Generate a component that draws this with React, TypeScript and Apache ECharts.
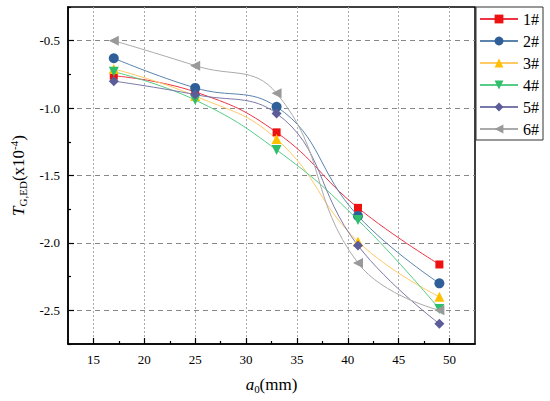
import React, { useEffect, useRef } from "react";
import * as echarts from "echarts";

const xValues = [17, 25, 33, 41, 49];
const seriesNames = ["1#", "2#", "3#", "4#", "5#", "6#"];
const s1 = [-0.76, -0.88, -1.18, -1.74, -2.16];
const s2 = [-0.63, -0.85, -0.99, -1.8, -2.3];
const s3 = [-0.71, -0.91, -1.23, -1.99, -2.4];
const s4 = [-0.73, -0.94, -1.31, -1.83, -2.49];
const s5 = [-0.8, -0.9, -1.04, -2.02, -2.6];
const s6 = [-0.5, -0.685, -0.89, -2.15, -2.5];
const xMajorTicks = [15, 20, 25, 30, 35, 40, 45, 50];
const xMinorTicks = [17.5, 22.5, 27.5, 32.5, 37.5, 42.5, 47.5];
const yMajorTicks = [-2.5, -2.0, -1.5, -1.0, -0.5];
const yMinorTicks = [-2.75, -2.25, -1.75, -1.25, -0.75, -0.25];

const FONT = "'Liberation Serif', 'Times New Roman', serif";

export default function App() {
  const ref = useRef<HTMLDivElement>(null);
  useEffect(() => {
    document.body.style.margin = "0";
    const chart = echarts.init(ref.current!, null, { renderer: "svg" });
    const all = [s1, s2, s3, s4, s5, s6];
    const markerColors = ["#ee1111", "#2f5f98", "#ffc000", "#2fbf6a", "#5c5c99", "#999999"];
    const lineColors = ["#ee3344", "#5a84ad", "#ffc966", "#55cc88", "#7a7aaa", "#aaaaaa"];
    const symbols = ["rect", "circle", "triangle", "triangle", "diamond", "triangle"];
    const rotates = [0, 0, 0, 180, 0, 90];
    const sizes = [8, 10, 10, 10, 10, 10];
    const series = all.map((vals, i) => ({
      name: seriesNames[i],
      type: "line",
      xAxisIndex: 0,
      yAxisIndex: 0,
      data: vals.map((v, j) => [xValues[j], v]),
      smooth: 0.45,
      symbol: symbols[i],
      symbolRotate: rotates[i],
      symbolSize: sizes[i],
      showAllSymbol: true,
      lineStyle: { color: lineColors[i], width: 1 },
      itemStyle: { color: markerColors[i] },
      emphasis: { disabled: true },
    }));
    const minorAxisCommon = {
      axisLine: { show: false },
      axisLabel: { show: false },
      splitLine: { show: false },
    };
    chart.setOption({
      animation: false,
      grid: {
        left: 60,
        right: 75,
        top: 7,
        bottom: 57,
        show: true,
        borderColor: "#000",
        borderWidth: 1.5,
        backgroundColor: "transparent",
      },
      legend: {
        orient: "vertical",
        left: 476,
        top: 7,
        padding: [4, 4, 3, 3],
        borderColor: "#333",
        borderWidth: 1,
        borderRadius: 0,
        itemWidth: 38,
        itemHeight: 11,
        itemGap: 6,
        textStyle: { fontFamily: FONT, fontSize: 16, lineHeight: 16, color: "#000" },
        data: seriesNames,
      },
      xAxis: [
        {
          type: "value",
          min: 12.5,
          max: 52.5,
          interval: 2.5,
          name: "{i|a}{sub|0}{n|(mm)}",
          nameLocation: "middle",
          nameGap: 30,
          nameTextStyle: {
            rich: {
              i: { fontFamily: FONT, fontSize: 17, fontStyle: "italic", color: "#000", lineHeight: 20 },
              sub: { fontFamily: FONT, fontSize: 11, color: "#000", lineHeight: 10, verticalAlign: "bottom" },
              n: { fontFamily: FONT, fontSize: 17, color: "#000", lineHeight: 20 },
            },
          },
          axisLine: { onZero: false, lineStyle: { color: "#000", width: 1.5 } },
          axisTick: { inside: true, length: 6, customValues: xMajorTicks, lineStyle: { color: "#000", width: 1.2 } },
          axisLabel: {
            customValues: xMajorTicks,
            margin: 9,
            fontFamily: FONT,
            fontSize: 13,
            color: "#000",
            formatter: (v: number) => String(v),
          },
          splitLine: { show: true, lineStyle: { color: "#aaa", type: [2, 2], width: 1 } },
        },
        {
          type: "value",
          position: "bottom",
          min: 12.5,
          max: 52.5,
          interval: 2.5,
          ...minorAxisCommon,
          axisTick: { inside: true, length: 3, customValues: xMinorTicks, lineStyle: { color: "#000", width: 1.2 } },
        },
      ],
      yAxis: [
        {
          type: "value",
          min: -2.75,
          max: -0.25,
          interval: 0.25,
          name: "{i|T}{sub|G,ED}{n|(x10}{sup|-4}{n|)}",
          nameLocation: "middle",
          nameRotate: 90,
          nameGap: 40,
          nameTextStyle: {
            rich: {
              i: { fontFamily: FONT, fontSize: 17, fontStyle: "italic", color: "#000", lineHeight: 20 },
              sub: { fontFamily: FONT, fontSize: 11, color: "#000", lineHeight: 10, verticalAlign: "bottom" },
              sup: { fontFamily: FONT, fontSize: 11, color: "#000", lineHeight: 10, verticalAlign: "top" },
              n: { fontFamily: FONT, fontSize: 17, color: "#000", lineHeight: 20 },
            },
          },
          axisLine: { onZero: false, lineStyle: { color: "#000", width: 1.5 } },
          axisTick: { inside: true, length: 6, customValues: yMajorTicks, lineStyle: { color: "#000", width: 1.2 } },
          axisLabel: {
            customValues: yMajorTicks,
            margin: 8,
            fontFamily: FONT,
            fontSize: 13,
            color: "#000",
            formatter: (v: number) => v.toFixed(1),
          },
          splitLine: { show: true, lineStyle: { color: "#888", type: [5, 4], width: 1.2 } },
        },
        {
          type: "value",
          position: "left",
          min: -2.75,
          max: -0.25,
          interval: 0.25,
          ...minorAxisCommon,
          axisTick: { inside: true, length: 3, customValues: yMinorTicks, lineStyle: { color: "#000", width: 1.2 } },
        },
      ],
      series,
    });
    return () => chart.dispose();
  }, []);
  return <div ref={ref} style={{ width: 550, height: 401 }} />;
}
